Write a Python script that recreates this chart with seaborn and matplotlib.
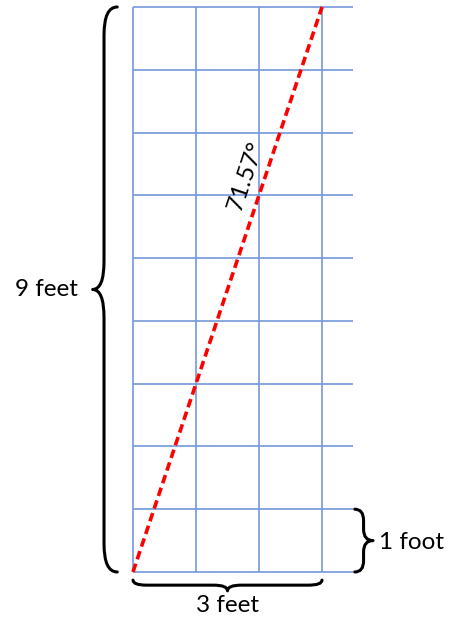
import matplotlib
matplotlib.use("Agg")
import matplotlib.pyplot as plt
from matplotlib.path import Path
from matplotlib.patches import PathPatch
import seaborn as sns

# diagram values (feet)
width_ft = 3
height_ft = 9
col_lines = [0, 1, 2, 3]
row_lines = [0, 1, 2, 3, 4, 5, 6, 7, 8, 9]
diag_x = [0, width_ft]
diag_y = [0, height_ft]
angle_label = "71.57°"
labels = {"height": "9 feet", "width": "3 feet", "unit": "1 foot"}

sns.set_theme(style="white")
plt.rcParams['font.family'] = ['Lato', 'DejaVu Sans']
plt.rcParams['text.color'] = 'black'

fig = plt.figure(figsize=(4.57, 6.2), dpi=100)
ax = fig.add_axes([0, 0, 1, 1])
ax.set_xlim(-2.111, 5.143)
ax.set_ylim(-0.765, 9.111)
ax.axis('off')

grid_col = "#7597DA"
ax.hlines(row_lines, 0, width_ft + 0.49, color=grid_col, lw=1.2, zorder=1)
ax.vlines(col_lines, 0, height_ft, color=grid_col, lw=1.2, zorder=1)

sns.lineplot(x=diag_x, y=diag_y, color="#FF0000", lw=2.6,
             linestyle=(0, (2.4, 1.3)), ax=ax, zorder=3)


def brace(ax, a, b, base, spine, tip, r, vertical=True):
    # curly brace between a and b; base = end position, spine/tip offsets outward
    m = (a + b) / 2
    pts = [(base, b), (spine, b), (spine, b - r), (spine, m + r), (spine, m), (tip, m),
           (spine, m), (spine, m - r), (spine, a + r), (spine, a), (base, a)]
    codes = [Path.MOVETO, Path.CURVE3, Path.CURVE3, Path.LINETO, Path.CURVE3, Path.CURVE3,
             Path.CURVE3, Path.CURVE3, Path.LINETO, Path.CURVE3, Path.CURVE3]
    if not vertical:
        pts = [(p[1], p[0]) for p in pts]
    ax.add_patch(PathPatch(Path(pts, codes), fill=False, lw=2.2, color="black",
                           capstyle='round', joinstyle='round'))


brace(ax, 0, height_ft, -0.25, -0.46, -0.64, 0.45)
brace(ax, 0, width_ft, -0.13, -0.21, -0.30, 0.22, vertical=False)
brace(ax, 0, 1, 3.52, 3.66, 3.81, 0.18)

fs = 17.5
ax.text(-0.87, height_ft / 2, labels["height"], ha='right', va='center', fontsize=fs, color='black')
ax.text(width_ft / 2, -0.54, labels["width"], ha='center', va='center', fontsize=fs, color='black')
ax.text(3.9, 0.47, labels["unit"], ha='left', va='center', fontsize=fs, color='black')
ax.text(1.8, 6.31, angle_label, ha='center', va='center', fontsize=fs, color='black',
        rotation=71.57, rotation_mode='anchor')

fig.savefig("out.png", dpi=100)
